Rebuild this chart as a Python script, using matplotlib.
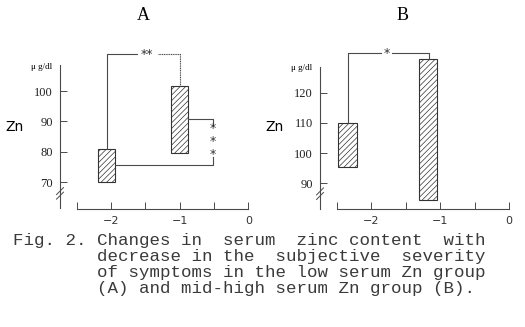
import numpy as np
import matplotlib
matplotlib.use('Agg')
import matplotlib.pyplot as plt

## data

# panel A : low serum Zn group
a_centers = [-2.07, -1.005]
a_widths = [0.26, 0.25]
a_low = [70.0, 79.5]
a_high = [81.0, 101.5]
a_yticks = [70, 80, 90, 100]

# panel B : mid-high serum Zn group
b_centers = [-2.35, -1.18]
b_widths = [0.28, 0.26]
b_low = [95.5, 84.5]
b_high = [110.0, 131.0]
b_yticks = [90, 100, 110, 120]

xticks_major = [-2, -1, 0]
xticks_minor = [-2.5, -1.5, -0.5]
xtick_labels = ['\u22122', '\u22121', '0']

caption = ['Fig. 2. Changes in  serum  zinc content  with',
           '        decrease in the  subjective  severity',
           '        of symptoms in the low serum Zn group',
           '        (A) and mid-high serum Zn group (B).']

## toolkit

W, H = 525, 327
LC = '#4a4a4a'
plt.rcParams['hatch.linewidth'] = 0.5
plt.rcParams['hatch.color'] = '#555555'


def px(x0, y0, x1, y1):
    # figure box from pixel corners
    return [x0/W, 1 - y1/H, (x1 - x0)/W, (y1 - y0)/H]


def setupAxis(ax, xlim, ylim, yspine_x, xspine_y, ybounds, yticks, brk):
    ax.set_xlim(*xlim)
    ax.set_ylim(*ylim)
    for s in ['top', 'right']:
        ax.spines[s].set_visible(False)
    ax.spines['left'].set_position(('data', yspine_x))
    ax.spines['left'].set_bounds(*ybounds)
    ax.spines['bottom'].set_position(('data', xspine_y))
    ax.spines['bottom'].set_bounds(-2.5, 0)
    for s in ['left', 'bottom']:
        ax.spines[s].set_color(LC)
        ax.spines[s].set_linewidth(0.8)
    ax.set_yticks(yticks)
    ax.set_yticklabels([str(t) for t in yticks], family='Liberation Serif', fontsize=9, color='#222222')
    ax.set_xticks(xticks_major)
    ax.set_xticklabels(xtick_labels, family='DejaVu Sans', fontsize=8, color='#333333')
    ax.set_xticks(xticks_minor, minor=True)
    ax.tick_params(axis='y', direction='in', length=5, width=0.7, color=LC, pad=5)
    ax.tick_params(axis='x', which='both', direction='in', length=5, width=0.7, color=LC, pad=5)
    ax.patch.set_visible(False)
    # axis break mark
    dy = (ylim[1] - ylim[0]) / 170 * 3.5
    dx = (xlim[1] - xlim[0]) / 200 * 3.5
    for off in [0, 1.3*dy]:
        ax.plot([yspine_x - dx, yspine_x + dx], [brk - dy + off, brk + dy + off],
                color=LC, lw=0.7, clip_on=False)


def hatchedBars(ax, centers, widths, low, high):
    ax.bar(centers, np.array(high) - np.array(low), width=widths, bottom=low,
           facecolor='white', edgecolor='#333333', linewidth=0.8, hatch='//////')


fig = plt.figure(figsize=(W/100, H/100), dpi=100)

## panel A
axA = fig.add_axes(px(55, 45, 255, 215))
setupAxis(axA, (-2.821, 0.0985), (59.12, 115.17), -2.748, 61.1, (61.4, 108.6), a_yticks, 65.5)
hatchedBars(axA, a_centers, a_widths, a_low, a_high)
top = 112.2
axA.plot([-2.06, -2.06, -1.62], [a_high[0], top, top], color=LC, lw=0.8)
axA.plot([-1.32, -1.0, -1.0], [top, top, a_high[1]], color=LC, lw=0.8, ls=(0, (1, 0.6)))
axA.text(-1.48, top, '**', ha='center', va='center', fontsize=9, color='#333333')
rx = -0.52
axA.plot([-0.88, rx, rx], [90.7, 90.7, 88.5], color=LC, lw=0.8)
axA.plot([rx, rx, -1.94], [78.3, 75.6, 75.6], color=LC, lw=0.8)
axA.text(rx, 83.3, '*\n*\n*', ha='center', va='center', fontsize=9, linespacing=1.0,
         color='#333333')
fig.text(143/W, 1 - 16/H, 'A', family='Liberation Serif', fontsize=13, ha='center', va='center')
fig.text(42/W, 1 - 67/H, '\u03bc g/dl', family='Liberation Serif', fontsize=6.5, ha='center', va='center')
fig.text(15/W, 1 - 127/H, 'Zn', family='DejaVu Sans', fontsize=10, ha='center', va='center')

## panel B
axB = fig.add_axes(px(315, 45, 515, 215))
setupAxis(axB, (-2.82, 0.087), (79.5, 135.8), -2.747, 81.5, (81.5, 128.5), b_yticks, 85.8)
hatchedBars(axB, b_centers, b_widths, b_low, b_high)
top = 133.0
axB.plot([-2.34, -2.34, -1.86], [b_high[0], top, top], color=LC, lw=0.8)
axB.plot([-1.70, -1.16, -1.16], [top, top, b_high[1]], color=LC, lw=0.8)
axB.text(-1.78, top, '*', ha='center', va='center', fontsize=9, color='#333333')
fig.text(403/W, 1 - 16/H, 'B', family='Liberation Serif', fontsize=13, ha='center', va='center')
fig.text(302/W, 1 - 68/H, '\u03bc g/dl', family='Liberation Serif', fontsize=6.5, ha='center', va='center')
fig.text(275/W, 1 - 127/H, 'Zn', family='DejaVu Sans', fontsize=10, ha='center', va='center')

## caption
for i, line in enumerate(caption):
    fig.text(13/W, 1 - (240 + 16*i)/H, line, family='Liberation Mono', fontsize=12.6,
             ha='left', va='center', color='#3a3a3a')

fig.savefig('out.png', dpi=100)
